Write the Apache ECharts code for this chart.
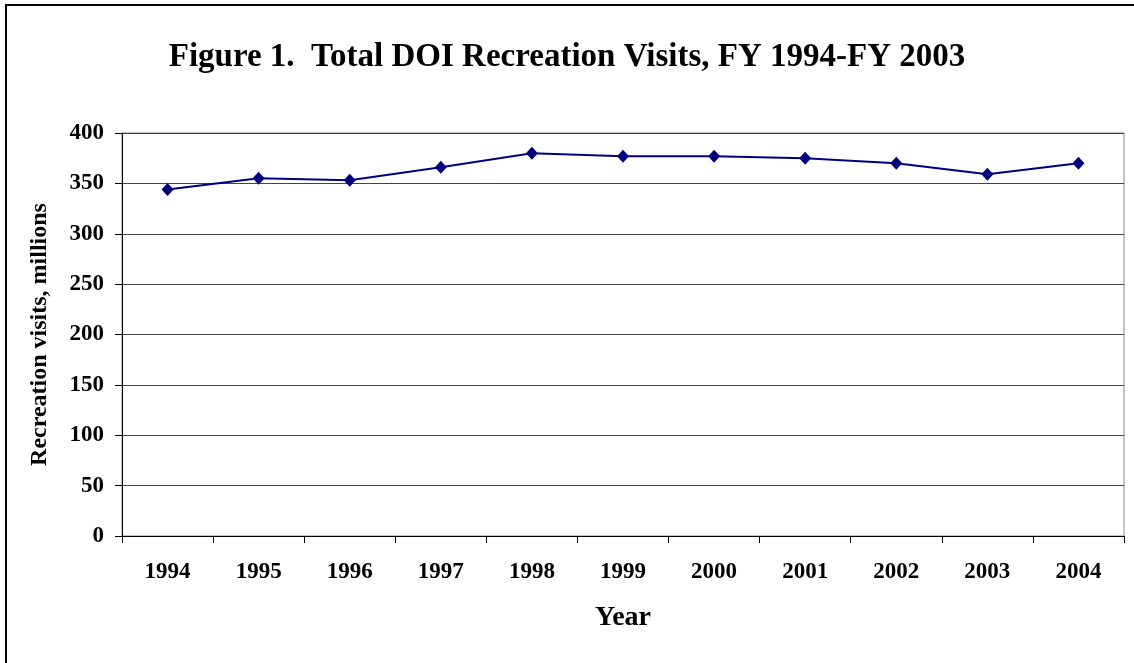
<!DOCTYPE html>
<html>
<head>
<meta charset="utf-8">
<script src="https://cdn.jsdelivr.net/npm/echarts@6/dist/echarts.min.js"></script>
<style>
  html, body { margin: 0; padding: 0; background: #fff; }
  #chart { width: 1134px; height: 663px; }
</style>
</head>
<body>
<div id="chart"></div>
<script>
// chart data
var years = ["1994", "1995", "1996", "1997", "1998", "1999", "2000", "2001", "2002", "2003", "2004"];
var visits = [344, 355, 353, 366, 380, 377, 377, 375, 370, 359, 370];
var yTicks = [0, 50, 100, 150, 200, 250, 300, 350, 400];

var serif = "'Liberation Serif', 'DejaVu Serif', serif";

var myChart = echarts.init(document.getElementById("chart"));

var option = {
  backgroundColor: "#fff",
  textStyle: { fontFamily: serif, color: "#000" },
  title: {
    text: "Figure 1.  Total DOI Recreation Visits, FY 1994-FY 2003",
    left: "center",
    top: 36,
    textStyle: { fontFamily: serif, fontSize: 33, fontWeight: "bold", color: "#000" }
  },
  graphic: [
    {
      type: "rect",
      shape: { x: 6, y: 5, width: 1300, height: 800 },
      style: { fill: null, stroke: "#000", lineWidth: 2 },
      silent: true
    }
  ],
  grid: {
    left: 122,
    right: 10,
    top: 133,
    bottom: 127,
    show: true,
    borderColor: "#888",
    borderWidth: 1
  },
  xAxis: {
    type: "category",
    data: years,
    boundaryGap: true,
    name: "Year",
    nameLocation: "middle",
    nameGap: 68,
    nameTextStyle: { fontFamily: serif, fontSize: 28, fontWeight: "bold", color: "#000" },
    axisLine: { lineStyle: { color: "#000", width: 1 } },
    axisTick: { show: true, alignWithLabel: false, length: 7, lineStyle: { color: "#000" } },
    axisLabel: { fontFamily: serif, fontSize: 23, fontWeight: "bold", color: "#000", margin: 25 },
    splitLine: { show: false }
  },
  yAxis: {
    type: "value",
    min: yTicks[0],
    max: yTicks[yTicks.length - 1],
    interval: 50,
    name: "Recreation visits, millions",
    nameLocation: "middle",
    nameGap: 70,
    nameTextStyle: { fontFamily: serif, fontSize: 24, fontWeight: "bold", color: "#000" },
    axisLine: { show: true, lineStyle: { color: "#000", width: 1 } },
    axisTick: { show: true, length: 7, lineStyle: { color: "#000" } },
    axisLabel: { fontFamily: serif, fontSize: 23, fontWeight: "bold", color: "#000", margin: 18 },
    splitLine: { show: true, lineStyle: { color: "#444", width: 1 } }
  },
  series: [
    {
      name: "Recreation visits",
      type: "line",
      data: visits,
      symbol: "diamond",
      symbolSize: [12, 13],
      itemStyle: { color: "#000080" },
      lineStyle: { color: "#000080", width: 2 },
      animation: false
    }
  ]
};
myChart.setOption(option);
</script>
</body>
</html>
